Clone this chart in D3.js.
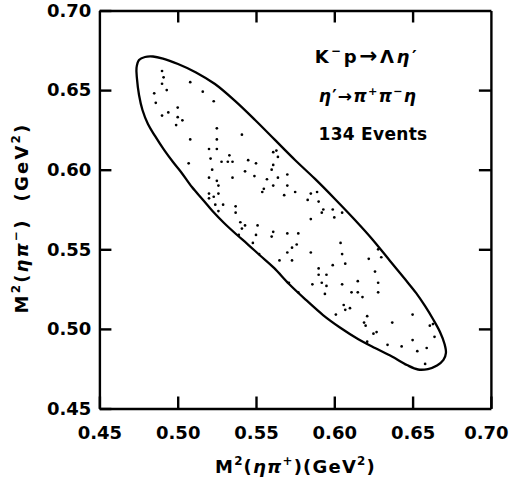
<!DOCTYPE html>
<html>
<head>
<meta charset="utf-8">
<script src="https://cdn.jsdelivr.net/npm/d3@7"></script>
<style>
  html, body { margin: 0; padding: 0; background: #fff; }
  svg { display: block; }
  text { font-family: "DejaVu Sans", sans-serif; font-weight: bold; fill: #000; }
</style>
</head>
<body>
<svg id="chart" width="510" height="483"></svg>
<script>
// Dalitz plot of K-p -> Lambda eta', eta' -> pi+ pi- eta (masses squared in GeV^2)

// event positions: M^2(eta pi+) and M^2(eta pi-)
const eventsEtaPiPlus = [
  0.490,0.491,0.490,0.508,0.493,0.485,0.516,0.486,0.523,0.500,0.494,0.490,0.500,0.503,0.499,
  0.525,0.541,0.508,0.525,0.520,0.525,0.533,0.521,0.528,0.532,0.535,0.545,0.507,0.522,0.543,
  0.561,0.563,0.564,0.550,0.561,0.560,0.570,
  0.520,0.535,0.525,0.526,0.549,0.557,0.564,0.555,0.554,0.561,0.570,0.520,0.523,0.526,0.520,
  0.524,0.529,0.526,0.537,0.537,0.568,0.540,0.543,0.541,0.551,0.539,0.550,0.561,0.560,0.570,
  0.548,0.552,0.570,0.565,0.571,
  0.575,0.585,0.589,0.583,0.590,0.593,0.592,0.599,0.600,0.605,0.585,0.577,0.576,0.573,0.585,
  0.604,0.605,0.573,0.590,0.599,0.607,0.622,0.628,0.630,0.595,0.590,0.626,0.615,0.592,0.595,
  0.586,0.605,0.628,0.611,0.615,0.628,0.594,0.577,
  0.618,0.606,0.607,0.610,0.601,0.621,0.619,0.620,0.637,0.650,0.661,0.663,0.664,0.625,0.627,
  0.621,0.634,0.643,0.650,0.653,0.659,0.658
];
const eventsEtaPiMinus = [
  0.662,0.658,0.654,0.655,0.650,0.648,0.649,0.642,0.643,0.639,0.636,0.634,0.633,0.631,0.628,
  0.626,0.622,0.619,0.619,0.613,0.613,0.609,0.607,0.605,0.605,0.605,0.606,0.604,0.600,0.599,
  0.611,0.612,0.608,0.604,0.603,0.600,0.597,
  0.595,0.595,0.593,0.590,0.596,0.594,0.595,0.588,0.586,0.590,0.590,0.585,0.583,0.585,0.582,
  0.578,0.578,0.574,0.577,0.573,0.584,0.567,0.565,0.563,0.565,0.559,0.559,0.561,0.558,0.560,
  0.554,0.547,0.548,0.543,0.529,
  0.586,0.585,0.586,0.581,0.580,0.575,0.573,0.575,0.570,0.573,0.569,0.560,0.553,0.551,0.548,
  0.554,0.547,0.543,0.538,0.540,0.541,0.544,0.550,0.545,0.534,0.534,0.536,0.530,0.529,0.527,
  0.528,0.528,0.529,0.523,0.523,0.523,0.522,0.523,
  0.520,0.515,0.512,0.513,0.509,0.508,0.504,0.502,0.504,0.509,0.502,0.503,0.495,0.497,0.498,
  0.492,0.490,0.489,0.493,0.486,0.488,0.478
];

// kinematic boundary of the allowed region, traced as a closed outline
const boundaryEtaPiPlus = [
  0.4737,0.4753,0.4791,0.4842,0.4906,0.5002,0.5117,0.5238,0.5366,0.5494,0.5621,0.5749,0.5877,
  0.6004,0.6132,0.6241,0.6356,0.6451,0.6522,0.6579,0.6630,0.6675,0.6704,0.6713,0.6697,0.6656,
  0.6598,0.6535,0.6464,0.6368,0.6260,0.6151,0.6036,0.5928,0.5819,0.5711,0.5615,0.5526,0.5449,
  0.5372,0.5296,0.5225,0.5162,0.5091,0.5021,0.4970,0.4913,0.4855,0.4810,0.4775,0.4753,0.4740
];
const boundaryEtaPiMinus = [
  0.6639,0.6689,0.6708,0.6711,0.6698,0.6664,0.6611,0.6538,0.6432,0.6312,0.6187,0.6061,0.5942,
  0.5816,0.5684,0.5565,0.5427,0.5313,0.5226,0.5144,0.5062,0.4981,0.4905,0.4849,0.4805,0.4770,
  0.4748,0.4745,0.4773,0.4827,0.4880,0.4937,0.5009,0.5087,0.5182,0.5282,0.5383,0.5461,0.5530,
  0.5596,0.5665,0.5737,0.5810,0.5891,0.5986,0.6048,0.6124,0.6212,0.6287,0.6375,0.6469,0.6570
];

const labelledTicks = [0.45, 0.50, 0.55, 0.60, 0.65, 0.70];
const innerTicks = [0.50, 0.55, 0.60, 0.65];
const eventCountLabel = "134 Events";

const svg = d3.select("#chart");
svg.append("rect").attr("width", 510).attr("height", 483).attr("fill", "#fff");

const x = d3.scaleLinear().domain([0.45, 0.70]).range([99.4, 490.9]);
const y = d3.scaleLinear().domain([0.45, 0.70]).range([408.5, 10.5]);
const fmt = d3.format(".2f");
const TICK = 12;

function styleAxis(g) {
  g.selectAll("path.domain, line").attr("stroke", "#000").attr("stroke-width", 2.4);
  g.selectAll("text").attr("font-size", 18).attr("font-family", "DejaVu Sans")
    .attr("font-weight", "bold").attr("fill", "#000");
}

const xAxisG = svg.append("g").attr("transform", `translate(0,${y(0.45)})`)
  .call(d3.axisBottom(x).tickValues(labelledTicks).tickFormat(fmt)
    .tickSizeInner(-TICK).tickSizeOuter(0).tickPadding(17.5))
  .call(styleAxis);
// keep the last label inside the page
xAxisG.selectAll(".tick text").filter(d => d === 0.70).attr("dx", -5);

svg.append("g").attr("transform", `translate(${x(0.45)},0)`)
  .call(d3.axisLeft(y).tickValues(labelledTicks).tickFormat(fmt)
    .tickSizeInner(-TICK).tickSizeOuter(0).tickPadding(8))
  .call(styleAxis);
svg.append("g").attr("transform", `translate(0,${y(0.70)})`)
  .call(d3.axisTop(x).tickValues(innerTicks).tickFormat("")
    .tickSizeInner(-TICK).tickSizeOuter(0))
  .call(styleAxis);
svg.append("g").attr("transform", `translate(${x(0.70)},0)`)
  .call(d3.axisRight(y).tickValues(innerTicks).tickFormat("")
    .tickSizeInner(-TICK).tickSizeOuter(0))
  .call(styleAxis);

// boundary outline
const outline = boundaryEtaPiPlus.map((v, i) => [v, boundaryEtaPiMinus[i]]);
svg.append("path")
  .attr("d", d3.line().x(d => x(d[0])).y(d => y(d[1])).curve(d3.curveCatmullRomClosed.alpha(0.5))(outline))
  .attr("fill", "none").attr("stroke", "#000").attr("stroke-width", 2.3);

// events
svg.append("g").selectAll("circle")
  .data(eventsEtaPiPlus.map((v, i) => [v, eventsEtaPiMinus[i]]))
  .join("circle")
  .attr("cx", d => x(d[0])).attr("cy", d => y(d[1])).attr("r", 1.35).attr("fill", "#000");

// text built from runs of normal, superscript, greek and enlarged glyphs
function rich(textSel, parts, fs) {
  let shift = 0;
  parts.forEach(([s, kind]) => {
    const t = textSel.append("tspan").text(s);
    const target = kind === "sup" ? -0.42 * fs : 0;
    t.attr("dy", target - shift);
    shift = target;
    if (kind === "sup") t.attr("font-size", 0.66 * fs);
    if (kind === "greek") t.attr("font-style", "italic");
    if (kind === "big") t.attr("font-size", 1.2 * fs);
  });
  return textSel;
}

// x-axis title
rich(svg.append("text").attr("x", 295.5).attr("y", 473).attr("text-anchor", "middle")
  .attr("font-size", 18).attr("letter-spacing", 1.2),
  [["M"], ["2", "sup"], ["("], ["η", "greek"], ["π", "greek"], ["+", "sup"], [")"], ["(GeV"], ["2", "sup"], [")"]], 18);

// y-axis title
rich(svg.append("text").attr("transform", "translate(28,218) rotate(-90)").attr("text-anchor", "middle")
  .attr("font-size", 18).attr("letter-spacing", 2.2),
  [["M"], ["2", "sup"], ["("], ["η", "greek"], ["π", "greek"], ["−", "sup"], [")\u00a0\u00a0(GeV"], ["2", "sup"], [")"]], 18);

// reaction annotation
rich(svg.append("text").attr("x", 367).attr("y", 63).attr("text-anchor", "middle")
  .attr("font-size", 18).attr("letter-spacing", 2.6),
  [["K"], ["−", "sup"], ["p"], ["→", "big"], ["Λ"], ["η", "greek"], ["′"]], 18);
rich(svg.append("text").attr("x", 368).attr("y", 102).attr("text-anchor", "middle")
  .attr("font-size", 17).attr("letter-spacing", 1.2),
  [["η", "greek"], ["′→"], ["π", "greek"], ["+", "sup"], ["π", "greek"], ["−", "sup"], ["η", "greek"]], 17);
svg.append("text").attr("x", 373).attr("y", 140).attr("text-anchor", "middle").attr("font-size", 17)
  .attr("letter-spacing", 0.3)
  .text(eventCountLabel);
</script>
</body>
</html>
